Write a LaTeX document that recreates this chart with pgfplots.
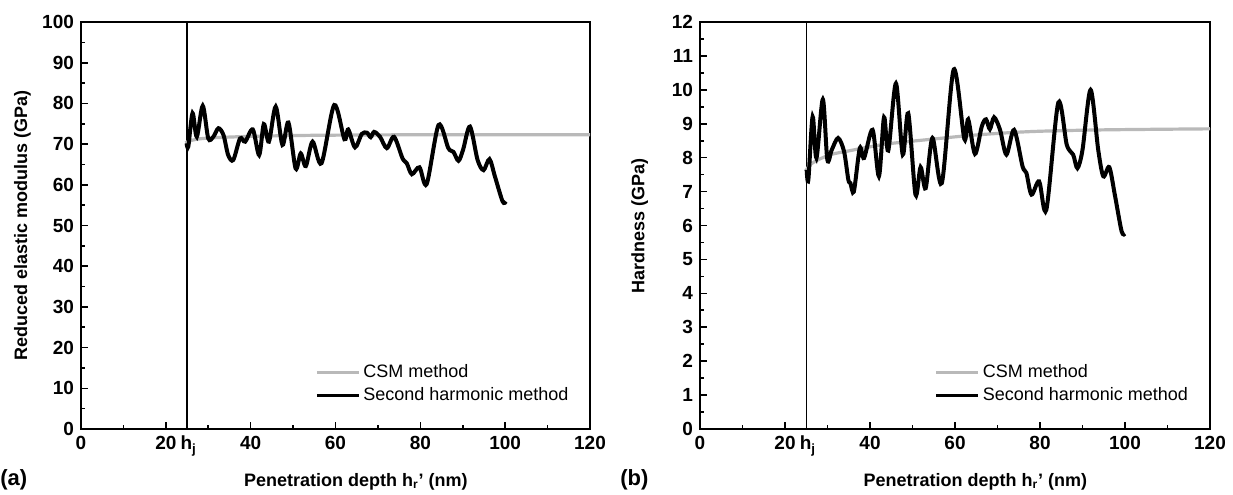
\documentclass[border=0pt]{standalone}
\usepackage{fontspec}
\setmainfont{Liberation Sans}
\usepackage{pgfplots}
\pgfplotsset{compat=1.18}
\definecolor{csmgray}{RGB}{185,185,185}
\pgfplotsset{
  myax/.style={
    scale only axis,
    anchor=south west,
    xmin=0, xmax=120,
    xtick={0,20,...,120},
    xticklabels={0,20,40,60,80,100,120},
    extra x ticks={25.4},
    extra x tick labels={h\textsubscript{j}},
    extra x tick style={major tick length=0pt, grid=none},
    minor x tick num=1,
    minor y tick num=1,
    tick align=inside,
    xtick pos=left, ytick pos=left,
    major tick length=3.5pt,
    minor tick length=2pt,
    every tick/.style={black, line width=0.8pt},
    axis line style={line width=1.1pt},
    /pgf/number format/assume math mode=true,
    tick label style={font=\fontsize{9.5}{11}\selectfont\bfseries},
    xlabel={Penetration depth h\textsubscript{r}' (nm)},
    every axis x label/.style={at={(axis description cs:0.54,-0.13)}, anchor=center,
      font=\fontsize{9}{11}\selectfont\bfseries},
    legend style={at={(axis description cs:0.46,0.055)}, anchor=south west, draw=none, fill=none,
      font=\fontsize{9}{11}\selectfont, row sep=0.5pt, inner sep=0pt,
      nodes={inner sep=1.5pt}},
    legend cell align=left,
    legend image code/.code={\draw[#1, line width=1.4pt] (0pt,0pt) -- (21pt,0pt);},
  }
}
\begin{document}
\begin{tikzpicture}
\useasboundingbox (0,0) rectangle (616.5pt,247pt);
% ---------- (a) ----------
\begin{axis}[myax,
  at={(40.5pt,32.5pt)}, width=254.5pt, height=203.5pt,
  ymin=0, ymax=100, ytick={0,10,...,100},
  every axis y label/.style={at={(axis description cs:-0.115,0.5)}, rotate=90, anchor=center,
    font=\fontsize{9}{11}\selectfont\bfseries},
  ylabel={Reduced elastic modulus (GPa)},
]
\addplot[black, line width=0.6pt, forget plot] coordinates {(25,0) (25,100)};
\addplot[csmgray, line width=1.6pt, smooth] coordinates {
(24.6,70.3) (26,70.9) (28,71.3) (32,71.6) (40,71.9) (50,72.1) (60,72.2) (80,72.3) (100,72.3) (120,72.3)};
\addplot[black, line width=2pt, smooth, tension=0.5] coordinates {
(24.9,70.2) (25.3,69.4) (26.3,77.6) (27.3,71.8) (28.7,79.4) (30.0,71.4) (31.2,71.8) (32.4,73.9)
(33.6,72.2) (34.7,67.3) (35.9,66.1) (37.5,71.4) (38.7,70.6) (40.5,73.6) (42.0,67.3) (43.1,74.9)
(44.3,70.6) (45.9,79.2) (47.5,69.8) (48.9,75.3) (50.6,64.0) (51.8,67.7) (53.0,64.6) (54.6,70.6)
(56.7,65.3) (59.7,79.6) (62.1,71.2) (63.0,73.6) (64.6,69.2) (66.2,72.5) (67.4,72.8) (68.3,71.7)
(69.1,73.0) (70.5,71.8) (72.1,69.0) (73.8,71.8) (75.8,66.5) (76.8,65.3) (78.0,62.6) (79.8,64.3)
(81.5,60.2) (84.3,74.7) (86.6,69.0) (87.8,68.1) (89.0,65.9) (90.1,68.7) (91.7,74.3) (93.5,66.1)
(94.9,63.6) (96.3,66.3) (97.6,62.0) (99.4,55.9) (100.2,55.9)};
\legend{CSM method, Second harmonic method}
\end{axis}
% ---------- (b) ----------
\begin{axis}[myax,
  at={(350pt,32.5pt)}, width=255pt, height=203.5pt,
  ymin=0, ymax=12, ytick={0,1,...,12},
  every axis y label/.style={at={(axis description cs:-0.118,0.5)}, rotate=90, anchor=center,
    font=\fontsize{9}{11}\selectfont\bfseries},
  ylabel={Hardness (GPa)},
]
\addplot[black, line width=0.6pt, forget plot] coordinates {(25,0) (25,12)};
\addplot[csmgray, line width=1.6pt, smooth] coordinates {
(24.8,7.6) (26,7.8) (28,7.95) (31,8.1) (35,8.2) (40,8.32) (45,8.42) (55,8.55) (65,8.67) (78,8.77) (95,8.82) (120,8.85)};
\addplot[black, line width=2pt, smooth, tension=0.5] coordinates {
(25.1,7.64) (25.5,7.35) (26.5,9.21) (27.4,7.99) (28.9,9.72) (29.96,7.94) (31.0,8.23) (32.5,8.58)
(33.9,8.18) (34.9,7.35) (35.4,7.25) (36.2,7.0) (37.6,8.28) (38.6,7.99) (40.6,8.82) (42.1,7.45)
(43.3,9.19) (44.3,8.21) (46.1,10.19) (47.7,8.09) (49.0,9.31) (50.7,6.91) (51.9,7.72) (53.1,7.1)
(54.7,8.58) (56.9,7.25) (59.7,10.6) (62.2,8.55) (63.1,9.13) (64.7,8.11) (66.3,8.92) (67.3,9.13)
(68.2,8.84) (69.2,9.19) (70.6,8.82) (72.1,8.09) (73.9,8.82) (75.9,7.74) (76.8,7.55) (78.0,6.91)
(79.8,7.3) (81.5,6.47) (84.3,9.62) (86.3,8.38) (87.8,8.09) (88.8,7.69) (90.0,8.23) (91.9,10.0)
(93.7,8.23) (94.9,7.45) (96.3,7.72) (97.6,6.91) (99.2,5.83) (100.0,5.76)};
\legend{CSM method, Second harmonic method}
\end{axis}
\node[anchor=west, inner sep=0pt, font=\fontsize{11}{13}\selectfont\bfseries] at (0pt,7pt) {(a)};
\node[anchor=west, inner sep=0pt, font=\fontsize{11}{13}\selectfont\bfseries] at (310pt,7pt) {(b)};
\end{tikzpicture}
\end{document}
